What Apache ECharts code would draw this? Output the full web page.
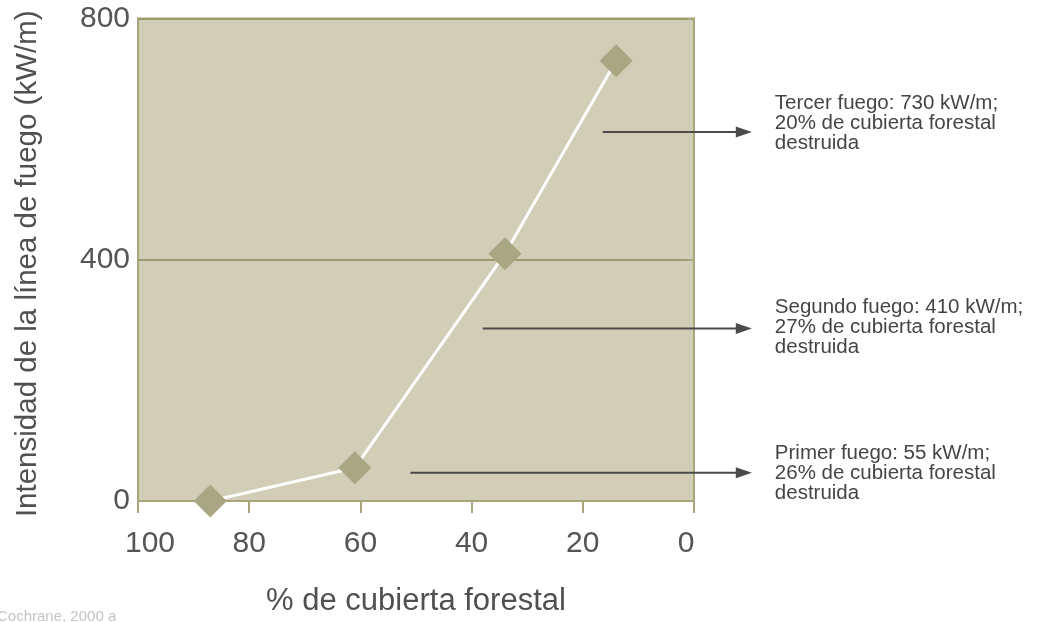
<!DOCTYPE html>
<html>
<head>
<meta charset="utf-8">
<script src="https://cdn.jsdelivr.net/npm/echarts@6/dist/echarts.min.js"></script>
<style>
html,body{margin:0;padding:0;background:#fff;}
#c{width:1037px;height:622px;}
</style>
</head>
<body>
<div id="c"></div>
<script>
// Data
const coverPct = [87, 61, 34, 14];           // % de cubierta forestal
const intensity = [0, 55, 410, 730];         // kW/m
const xTicks = [100, 80, 60, 40, 20, 0];
const yTicks = [0, 400, 800];

// Annotations: arrow start (x value, y value) and text
const arrowStartX = [16.4, 38, 51];
const arrowY = [612, 286, 47];
const arrowEndX = -10.4;
const noteLines = [
  ['Tercer fuego: 730 kW/m;', '20% de cubierta forestal', 'destruida'],
  ['Segundo fuego: 410 kW/m;', '27% de cubierta forestal', 'destruida'],
  ['Primer fuego: 55 kW/m;', '26% de cubierta forestal', 'destruida']
];
const sourceText = 'Cochrane, 2000 a';

const FONT = '"Liberation Sans", Arial, Helvetica, sans-serif';
const noteTopOffset = [-39, -31, -29];
const chart = echarts.init(document.getElementById('c'), null, {renderer: 'canvas'});

const option = {
  backgroundColor: '#ffffff',
  animation: false,
  grid: {
    left: 138, right: 343, top: 18.5, bottom: 115,
    show: true, backgroundColor: '#d2cdb6', borderColor: '#a9a67c', borderWidth: 2
  },
  xAxis: {
    type: 'value', min: 0, max: 100, interval: 20, inverse: true,
    name: '% de cubierta forestal', nameLocation: 'middle', nameGap: 85,
    nameTextStyle: {fontFamily: FONT, fontSize: 31, color: '#505050'},
    axisLine: {show: true, lineStyle: {color: '#a9a67c', width: 2}},
    axisTick: {show: true, length: 12, lineStyle: {color: '#a9a67c', width: 2}},
    axisLabel: {
      fontFamily: FONT, fontSize: 30, color: '#555', margin: 28,
      formatter: function (v) {
        if (v === 100) return '{first|' + v + '}';
        if (v === 0) return '{last|' + v + '}';
        return '' + v;
      },
      rich: {
        first: {fontFamily: FONT, fontSize: 30, color: '#555', padding: [0, 0, 0, 24]},
        last: {fontFamily: FONT, fontSize: 30, color: '#555', padding: [0, 16, 0, 0]}
      }
    },
    splitLine: {show: false}
  },
  yAxis: {
    type: 'value', min: 0, max: 800, interval: 400,
    name: 'Intensidad de la línea de fuego (kW/m)', nameLocation: 'middle', nameGap: 95,
    nameTextStyle: {fontFamily: FONT, fontSize: 29.5, color: '#505050', padding: [0, 8, 0, 0]},
    axisLine: {show: true, lineStyle: {color: '#a9a67c', width: 2}},
    axisTick: {show: true, length: 7, lineStyle: {color: '#a9a67c', width: 2}},
    axisLabel: {fontFamily: FONT, fontSize: 30, color: '#555', margin: 8},
    splitLine: {show: true, lineStyle: {color: '#9d9a6e', width: 2}}
  },
  series: [{
    type: 'line',
    data: coverPct.map((x, i) => [x, intensity[i]]),
    symbol: 'diamond', symbolSize: 33,
    clip: false,
    lineStyle: {color: '#ffffff', width: 3},
    itemStyle: {color: '#a9a683', borderWidth: 0}
  }]
};
chart.setOption(option);

// Annotations placed through the chart's own scales
const graphics = [];
arrowStartX.forEach((sx, i) => {
  const p0 = chart.convertToPixel({gridIndex: 0}, [sx, arrowY[i]]);
  const p1 = chart.convertToPixel({gridIndex: 0}, [arrowEndX, arrowY[i]]);
  graphics.push({
    type: 'line', z: 10,
    shape: {x1: p0[0], y1: p0[1], x2: p1[0] - 12, y2: p1[1]},
    style: {stroke: '#4a4a4a', lineWidth: 2}
  });
  graphics.push({
    type: 'polygon', z: 10,
    shape: {points: [[p1[0], p1[1]], [p1[0] - 16, p1[1] - 5.5], [p1[0] - 16, p1[1] + 5.5]]},
    style: {fill: '#4a4a4a'}
  });
  graphics.push({
    type: 'text', z: 10,
    x: p1[0] + 23, y: p1[1] + noteTopOffset[i],
    style: {
      text: noteLines[i].join('\n'), fontFamily: FONT, fontSize: 20.5,
      lineHeight: 20, fill: '#454545', verticalAlign: 'top'
    }
  });
});
graphics.push({
  type: 'text', x: -3, y: 609,
  style: {text: sourceText, fontFamily: FONT, fontSize: 15, fill: '#c4c4c4', verticalAlign: 'top'}
});
chart.setOption({graphic: graphics});
</script>
</body>
</html>
